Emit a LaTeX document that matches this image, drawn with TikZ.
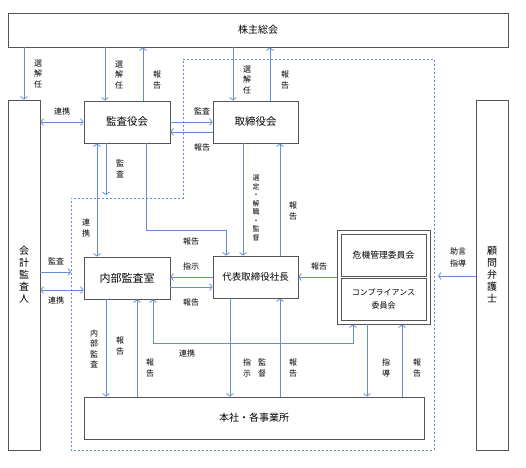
\documentclass[tikz,border=0pt]{standalone}
\usepackage{fontspec}
\setmainfont{Noto Sans CJK JP}
\usepackage{tikz}
\usetikzlibrary{arrows.meta}
\usetikzlibrary{calc}

\definecolor{lineblue}{RGB}{98,143,212}
\definecolor{boxgray}{RGB}{85,85,85}

\begin{document}
\begin{tikzpicture}[
    x=1pt, y=-1pt,
    box/.style={draw=boxgray, line width=0.9pt, inner sep=0pt, align=center, font=\fontsize{10}{12}\selectfont},
    arr/.style={draw=lineblue, line width=0.8pt, -{Straight Barb[length=2.5pt,width=7pt]}},
    twoway/.style={draw=lineblue, line width=0.8pt, {Straight Barb[length=2.5pt,width=7pt]}-{Straight Barb[length=2.5pt,width=7pt]}},
    lbl/.style={inner sep=0pt, align=center, font=\fontsize{8}{10.5}\selectfont},
    dashed line/.style={draw=lineblue, dash pattern=on 2pt off 2pt, line width=0.7pt}
    ]

    \useasboundingbox (0,0) rectangle (526,467);

    % columns and rows for the connectors
    \coordinate (c71) at (71,0);
    \coordinate (c97) at (97,0);
    \coordinate (c105) at (105,0);
    \coordinate (c106) at (106,0);
    \coordinate (c137) at (137,0);
    \coordinate (c143) at (143,0);
    \coordinate (c146) at (146,0);
    \coordinate (c153) at (153,0);
    \coordinate (c226) at (226,0);
    \coordinate (c230) at (230,0);
    \coordinate (c233) at (233,0);
    \coordinate (c243) at (243,0);
    \coordinate (c270) at (270,0);
    \coordinate (c280) at (280,0);
    \coordinate (c353) at (353,0);
    \coordinate (c367) at (367,0);
    \coordinate (c402) at (402,0);
    \coordinate (c438) at (438,0);
    \coordinate (r132) at (0,132);
    \coordinate (r195) at (0,195);
    \coordinate (r230) at (0,230);
    \coordinate (r272) at (0,272);
    \coordinate (r276) at (0,276);
    \coordinate (r277) at (0,277);
    \coordinate (r287) at (0,287);
    \coordinate (r290) at (0,290);
    \coordinate (r343) at (0,343);

    % group frame
    \draw[dashed line] (183,59) -- (434,59) -- (434,450) -- (71,450) -- (71,198) -- (183,198) -- cycle;

    % boxes
    \node[box, minimum width=500, minimum height=34] (kabu) at (258,30) {株主総会};
    \node[box, minimum width=32, minimum height=350] (kaikei) at (24,275) {会\\計\\監\\査\\人};
    \node[box, minimum width=32, minimum height=350] (komon) at (492,275) {顧\\問\\弁\\護\\士};
    \node[box, minimum width=86, minimum height=42, font=\fontsize{10.5}{12}\selectfont] (kansa) at (127,122) {監査役会};
    \node[box, minimum width=85, minimum height=42, font=\fontsize{10.5}{12}\selectfont] (tori) at (255.5,122) {取締役会};
    \node[box, minimum width=86, minimum height=42, font=\fontsize{11}{12}\selectfont] (naibu) at (127,278) {内部監査室};
    \node[box, minimum width=85, minimum height=42, font=\fontsize{9.5}{12}\selectfont] (daihyo) at (255.5,277) {代表取締役社長};
    \node[box, minimum width=93, minimum height=94] (iinkai) at (383.5,277) {};
    \node[box, minimum width=85, minimum height=42, font=\fontsize{8.8}{12}\selectfont] (kiki) at (383.5,255) {危機管理委員会};
    \node[box, minimum width=85, minimum height=42, font=\fontsize{8}{13}\selectfont] (compli) at (383.5,299) {コンプライアンス\\委員会};
    \node[box, minimum width=340, minimum height=42] (honsha) at (254,418) {本社・各事業所};

    % from the general meeting
    \draw[arr] (kabu.south -| kaikei) -- (kaikei.north);
    \draw[arr] (kabu.south -| c105) -- (kansa.north -| c105);
    \draw[arr] (kansa.north -| c143) -- (kabu.south -| c143);
    \draw[arr] (kabu.south -| c233) -- (tori.north -| c233);
    \draw[arr] (tori.north -| c270) -- (kabu.south -| c270);
    \node[lbl] (l1) at (38,74) {選\\解\\任};
    \node[lbl] (l2) at (119,75) {選\\解\\任};
    \node[lbl] (l3) at (157,80) {報\\告};
    \node[lbl] (l4) at (247,80) {選\\解\\任};
    \node[lbl] (l5) at (285,80) {報\\告};

    % board level
    \draw[twoway] (kaikei.east |- kansa) -- (kansa.west);
    \draw[arr] (kansa.east) -- (tori.west);
    \draw[arr] (tori.west |- r132) -- (kansa.east |- r132);
    \node[lbl] (l6) at (62,111) {連携};
    \node[lbl] (l7) at (202,111) {監査};
    \node[lbl] (l8) at (202,147) {報告};

    % down from the boards
    \draw[arr] (kansa.south -| c106) -- (c106 |- r195);
    \draw[twoway] (kansa.south -| c97) -- (naibu.north -| c97);
    \draw[arr] (kansa.south -| c146) -- (c146 |- r230) -- (c226 |- r230) -- (daihyo.north -| c226);
    \draw[arr] (tori.south -| c243) -- (daihyo.north -| c243);
    \draw[arr] (daihyo.north -| c280) -- (tori.south -| c280);
    \node[lbl] (l9) at (120,169) {監\\査};
    \node[lbl] (l10) at (86,228) {連\\携};
    \node[lbl] (l11) at (191,241) {報告};
    \node[lbl, font=\fontsize{7}{8.5}\selectfont] (l12) at (256,208) {選\\定\\・\\解\\職\\・\\監\\督};
    \node[lbl] (l13) at (293,211) {報\\告};

    % middle level
    \draw[arr] (kaikei.east |- r272) -- (c71 |- r272);
    \draw[twoway] (kaikei.east |- r290) -- (naibu.west |- r290);
    \draw[arr] (daihyo.west |- r277) -- (naibu.east |- r277);
    \draw[arr] (naibu.east |- r287) -- (daihyo.west |- r287);
    \draw[arr] (iinkai.west) -- (daihyo.east |- iinkai.west);
    \draw[arr] (komon.west |- r276) -- (c438 |- r276);
    \node[lbl] (l14) at (56,261) {監査};
    \node[lbl] (l15) at (56,300) {連携};
    \node[lbl] (l16) at (191,266) {指示};
    \node[lbl] (l17) at (191,302) {報告};
    \node[lbl] (l18) at (319,266) {報告};
    \node[lbl, font=\fontsize{8}{12}\selectfont] (l19) at (458,257) {助言\\指導};

    % down to the offices
    \draw[arr] (naibu.south -| c106) -- (honsha.north -| c106);
    \draw[arr] (honsha.north -| c137) -- (naibu.south -| c137);
    \draw[twoway] (naibu.south -| c153) -- (c153 |- r343) -- (c353 |- r343) -- (iinkai.south -| c353);
    \draw[arr] (daihyo.south -| c230) -- (honsha.north -| c230);
    \draw[arr] (honsha.north -| c280) -- (daihyo.south -| c280);
    \draw[arr] (iinkai.south -| c367) -- (honsha.north -| c367);
    \draw[arr] (honsha.north -| c402) -- (iinkai.south -| c402);
    \node[lbl] (l20) at (94,349) {内\\部\\監\\査};
    \node[lbl] (l21) at (120,346) {報\\告};
    \node[lbl] (l22) at (150,368) {報\\告};
    \node[lbl] (l23) at (187,353) {連携};
    \node[lbl] (l24) at (247,368) {指\\示};
    \node[lbl] (l25) at (262,368) {監\\督};
    \node[lbl] (l26) at (293,368) {報\\告};
    \node[lbl] (l27) at (386,368) {指\\導};
    \node[lbl] (l28) at (417,368) {報\\告};

\end{tikzpicture}
\end{document}
